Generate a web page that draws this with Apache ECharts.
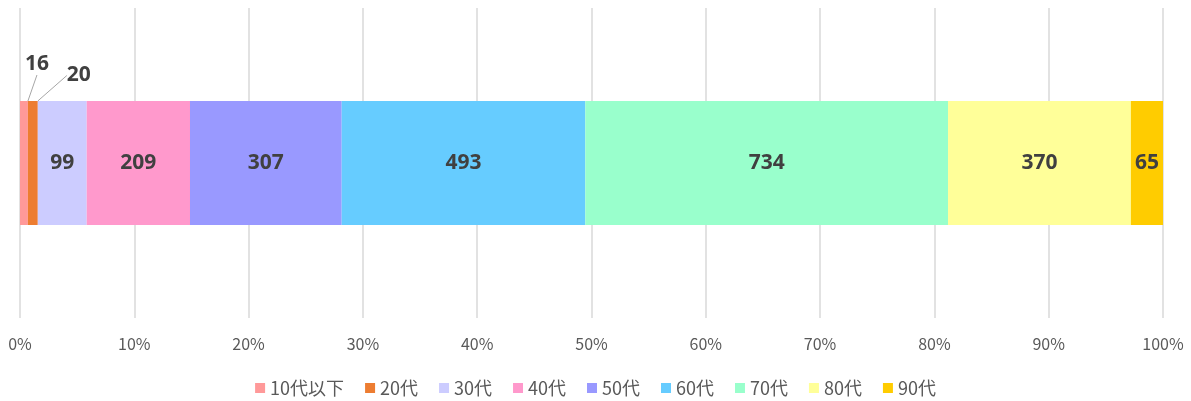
<!DOCTYPE html>
<html>
<head>
<meta charset="utf-8">
<script src="https://cdn.jsdelivr.net/npm/echarts@6/dist/echarts.min.js"></script>
<style>
  html, body { margin: 0; padding: 0; background: #fff; }
  #chart { width: 1191px; height: 401px; }
</style>
</head>
<body>
<div id="chart"></div>
<script>
var ageGroups = ['10代以下', '20代', '30代', '40代', '50代', '60代', '70代', '80代', '90代'];
var counts = [16, 20, 99, 209, 307, 493, 734, 370, 65];
var colors = ['#FF9999', '#ED7D31', '#CCCCFF', '#FF99CC', '#9999FF', '#66CCFF', '#99FFCC', '#FFFF99', '#FFCC00'];
var tickLabels = ['0%', '10%', '20%', '30%', '40%', '50%', '60%', '70%', '80%', '90%', '100%'];

var total = counts.reduce(function (a, b) { return a + b; }, 0);
var labelFont = '"Open Sans", Lato, sans-serif';
var textFont = '"Noto Sans CJK JP", "Noto Sans", sans-serif';

// small segments get their labels pulled outside with a leader line
var outside = { 0: { dx: 13, dy: -21 }, 1: { dx: 46, dy: -10 } };

var series = ageGroups.map(function (name, i) {
    var s = {
        name: name,
        type: 'bar',
        stack: 'total',
        barWidth: '40%',
        data: [counts[i] / total * 100],
        itemStyle: { color: colors[i] },
        label: {
            show: true,
            position: 'inside',
            formatter: function () { return counts[i]; },
            color: '#404040',
            fontFamily: labelFont,
            fontWeight: 'bold',
            fontSize: 21
        }
    };
    if (outside[i]) {
        s.label.position = 'top';
        s.labelLayout = { dx: outside[i].dx, dy: outside[i].dy };
        s.labelLine = { show: true, lineStyle: { color: '#a6a6a6', width: 1 } };
    }
    return s;
});

var chart = echarts.init(document.getElementById('chart'));
chart.setOption({
    animation: false,
    grid: { left: 20, right: 28, top: 8, bottom: 83, containLabel: false },
    legend: {
        top: 374,
        left: 'center',
        itemWidth: 10,
        itemHeight: 10,
        itemGap: 21,
        icon: 'rect',
        textStyle: { color: '#595959', fontSize: 18, fontFamily: textFont },
        data: ageGroups
    },
    xAxis: {
        type: 'value',
        min: 0,
        max: 100,
        interval: 10,
        axisLine: { show: false },
        axisTick: { show: false },
        axisLabel: {
            color: '#595959',
            fontSize: 16,
            fontFamily: textFont,
            margin: 18,
            formatter: function (v) { return tickLabels[Math.round(v / 10)]; }
        },
        splitLine: { lineStyle: { color: '#d9d9d9', width: 1.5 } }
    },
    yAxis: {
        type: 'category',
        data: ['合計'],
        show: false
    },
    series: series
});
</script>
</body>
</html>
